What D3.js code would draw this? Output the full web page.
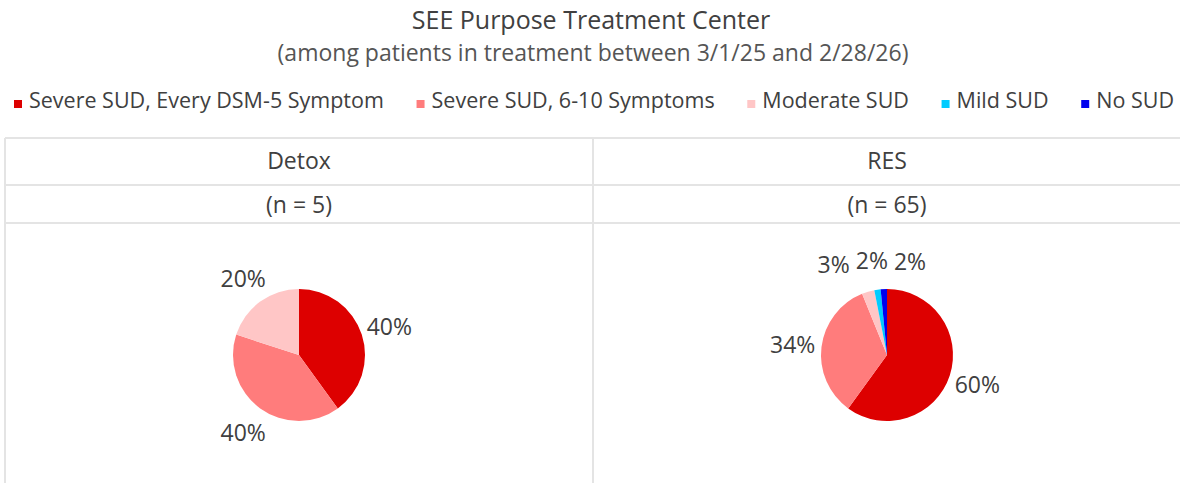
<!DOCTYPE html>
<html>
<head>
<meta charset="utf-8">
<script src="https://cdn.jsdelivr.net/npm/d3@7"></script>
<style>
  body { margin: 0; background: #fff; }
  svg { display: block; font-family: "Open Sans", sans-serif; }
</style>
</head>
<body>
<div id="chart"></div>
<script>
var width = 1180,
    height = 483;

// data
var categories = ["Severe SUD, Every DSM-5 Symptom", "Severe SUD, 6-10 Symptoms", "Moderate SUD", "Mild SUD", "No SUD"];
var catColors = ["#dd0000", "#ff7c7c", "#ffc6c6", "#00ccff", "#0000ee"];
var panels = ["Detox", "RES"];
var panelN = ["(n = 5)", "(n = 65)"];
var detoxCounts = [2, 2, 1, 0, 0];
var resCounts = [39, 22, 2, 1, 1];
var counts = [detoxCounts, resCounts];

var title = "SEE Purpose Treatment Center",
    subtitle = "(among patients in treatment between 3/1/25 and 2/28/26)";

var textColor = "#404040",
    gridColor = "#e4e4e4";

var color = d3.scaleOrdinal().domain(categories).range(catColors);

var svg = d3.select("#chart").append("svg")
  .attr("width", width)
  .attr("height", height);

// titles
svg.append("text")
  .attr("x", 591).attr("y", 29)
  .attr("text-anchor", "middle")
  .style("font-size", "25px")
  .style("fill", textColor)
  .text(title);

svg.append("text")
  .attr("x", 593).attr("y", 61)
  .attr("text-anchor", "middle")
  .style("font-size", "23px")
  .style("fill", "#555")
  .text(subtitle);

// legend, laid out left to right
var legend = svg.append("g");
var items = legend.selectAll("g")
  .data(categories)
  .enter().append("g");

items.append("rect")
  .attr("width", 8).attr("height", 8)
  .attr("y", 100)
  .style("fill", function(d) { return color(d); });

items.append("text")
  .attr("x", 15).attr("y", 108)
  .style("font-size", "21.5px")
  .style("fill", textColor)
  .text(function(d) { return d; });

var widths = [];
items.each(function() {
  widths.push(d3.select(this).select("text").node().getComputedTextLength() + 15);
});
var startX = 14, endX = 1174;
var gap = (endX - startX - d3.sum(widths)) / (categories.length - 1);
var xpos = startX;
items.attr("transform", function(d, i) {
  var t = "translate(" + xpos + ",0)";
  xpos += widths[i] + gap;
  return t;
});

// table grid
var x = d3.scaleBand().domain(panels).range([5, 1181]);
var rowLines = [138, 185, 223];

svg.selectAll("line.h")
  .data(rowLines)
  .enter().append("line")
  .attr("x1", 5).attr("x2", width)
  .attr("y1", function(d) { return d; })
  .attr("y2", function(d) { return d; })
  .style("stroke", gridColor)
  .style("stroke-width", 2);

svg.selectAll("line.v")
  .data(panels)
  .enter().append("line")
  .attr("x1", function(d) { return x(d); })
  .attr("x2", function(d) { return x(d); })
  .attr("y1", 138).attr("y2", height)
  .style("stroke", gridColor)
  .style("stroke-width", 2);

// headers
svg.selectAll("text.panel")
  .data(panels)
  .enter().append("text")
  .attr("x", function(d) { return x(d) + x.bandwidth() / 2; })
  .attr("y", 169)
  .attr("text-anchor", "middle")
  .style("font-size", "23px")
  .style("fill", textColor)
  .text(function(d) { return d; });

svg.selectAll("text.n")
  .data(panelN)
  .enter().append("text")
  .attr("x", function(d, i) { return x(panels[i]) + x.bandwidth() / 2; })
  .attr("y", 213)
  .attr("text-anchor", "middle")
  .style("font-size", "23px")
  .style("fill", textColor)
  .text(function(d) { return d; });

// pies
var r = 66, cy = 355, labelR = r + 29;

var pie = d3.pie().sort(null).value(function(d) { return d.value; });
var arc = d3.arc().innerRadius(0).outerRadius(r);

panels.forEach(function(p, pi) {
  var total = d3.sum(counts[pi]);
  var data = categories.map(function(c, i) { return { cat: c, value: counts[pi][i] }; })
    .filter(function(d) { return d.value > 0; });

  var g = svg.append("g")
    .attr("transform", "translate(" + (x(p) + x.bandwidth() / 2) + "," + cy + ")");

  var arcs = pie(data);

  g.selectAll("path")
    .data(arcs)
    .enter().append("path")
    .attr("d", arc)
    .style("fill", function(d) { return color(d.data.cat); });

  // label positions, then push apart ones that overlap
  var labels = arcs.map(function(d) {
    var a = (d.startAngle + d.endAngle) / 2;
    return {
      text: Math.round(d.data.value / total * 100) + "%",
      x: labelR * Math.sin(a),
      y: -labelR * Math.cos(a),
      w: 0
    };
  });

  var lt = g.selectAll("text")
    .data(labels)
    .enter().append("text")
    .attr("text-anchor", "middle")
    .attr("dominant-baseline", "central")
    .style("font-size", "23px")
    .style("fill", textColor)
    .text(function(d) { return d.text; });

  lt.each(function(d) { d.w = this.getComputedTextLength(); });

  for (var iter = 0; iter < 100; iter++) {
    for (var i = 0; i < labels.length; i++) {
      for (var j = i + 1; j < labels.length; j++) {
        var a = labels[i], b = labels[j];
        var dx = b.x - a.x, need = (a.w + b.w) / 2 + 6;
        if (Math.abs(a.y - b.y) < 24 && Math.abs(dx) < need) {
          var push = (need - Math.abs(dx)) / 2 * (dx >= 0 ? 1 : -1);
          a.x -= push; b.x += push;
        }
      }
    }
  }

  lt.attr("x", function(d) { return d.x; })
    .attr("y", function(d) { return d.y; });
});
</script>
</body>
</html>
